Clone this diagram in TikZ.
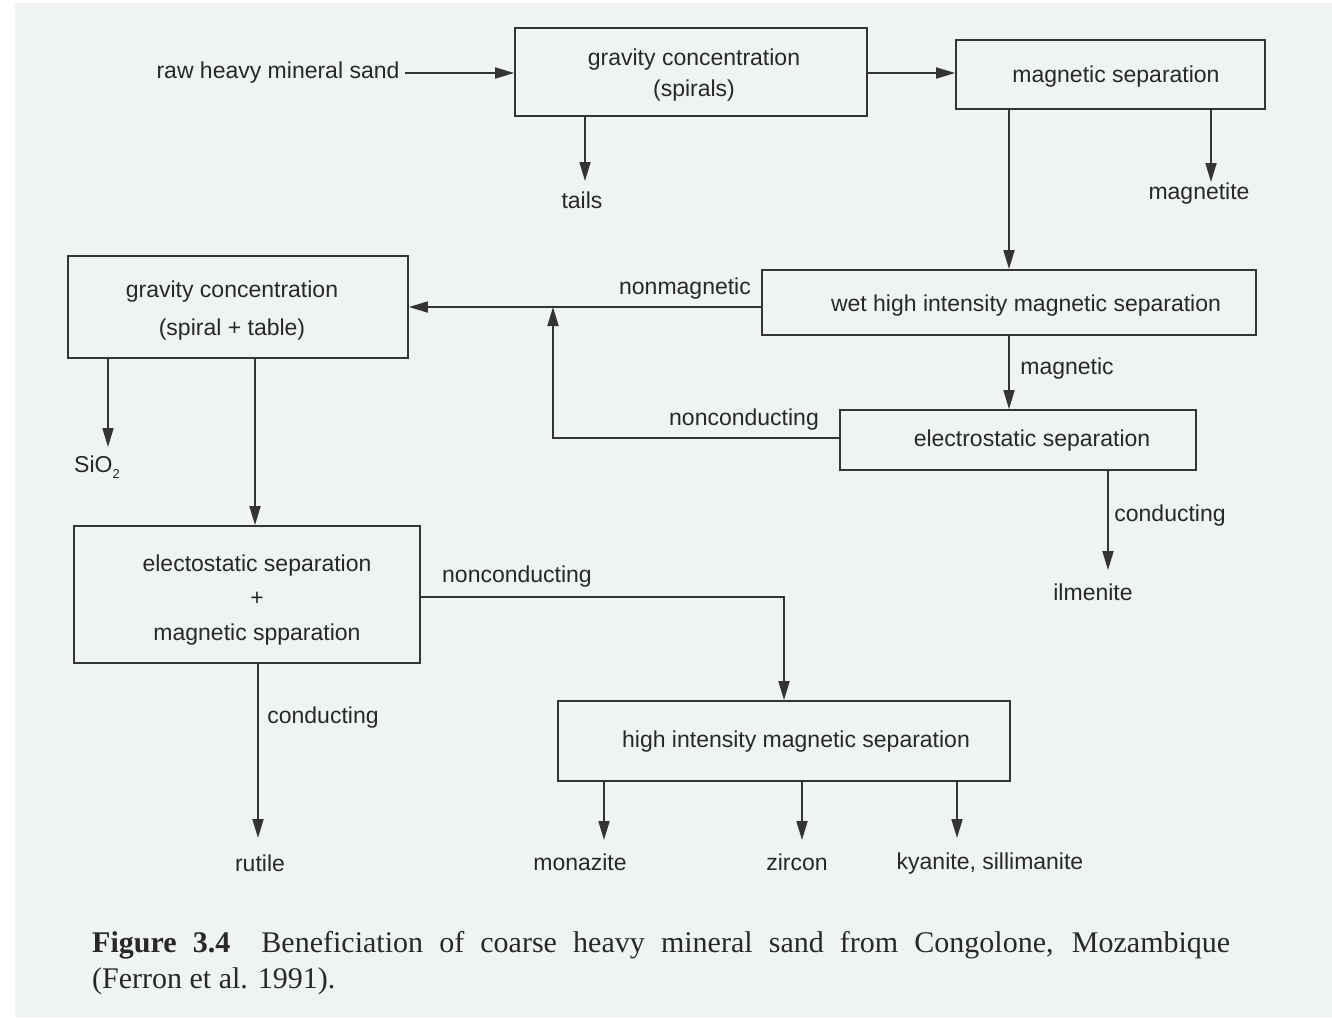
\documentclass[tikz,border=0pt]{standalone}
\usepackage{fontspec}
\setmainfont{Liberation Sans}
\newfontfamily\capfont{Liberation Serif}
\usetikzlibrary{arrows.meta,calc}
\definecolor{bgc}{RGB}{239,243,243}
\definecolor{ink}{RGB}{52,52,52}
\definecolor{txt}{RGB}{40,40,40}
\tikzset{
  box/.style={draw=ink,line width=1.8pt,inner sep=0pt},
  lbl/.style={text=txt,inner sep=0pt,font=\fontsize{23pt}{27pt}\selectfont},
  arr/.style={draw=ink,line width=1.8pt,-{Triangle[length=19pt,width=11pt]}},
  captxt/.style={text=txt,inner sep=0pt,anchor=base west,font=\capfont\fontsize{30pt}{36pt}\selectfont}
}
\begin{document}
\begin{tikzpicture}[x=1pt,y=-1pt]
\useasboundingbox (0,0) rectangle (1332,1018);
\fill[bgc] (15,3) rectangle (1332,1018);

% boxes
\node[box,minimum width=352pt,minimum height=88pt] (b1) at (691,72) {};
\node[box,minimum width=309pt,minimum height=69pt] (b2) at (1110.5,74.5) {};
\node[box,minimum width=494pt,minimum height=65pt] (b3) at (1009,302.5) {};
\node[box,minimum width=356pt,minimum height=60pt] (b5) at (1018,440) {};
\node[box,minimum width=340pt,minimum height=102pt] (b4) at (238,307) {};
\node[box,minimum width=346pt,minimum height=137pt] (b6) at (247,594.5) {};
\node[box,minimum width=452pt,minimum height=80pt] (b7) at (784,741) {};

% box texts
\node[lbl,align=center,font=\fontsize{23pt}{31pt}\selectfont] (t1) at (694,75) {gravity concentration\\(spirals)};
\node[lbl] (t2) at (1116,77) {magnetic separation};
\node[lbl] (t3) at (1026,306) {wet high intensity magnetic separation};
\node[lbl,align=center,font=\fontsize{23pt}{38pt}\selectfont] (t4) at (232,311) {gravity concentration\\(spiral + table)};
\node[lbl] (t5) at (1032,441) {electrostatic separation};
\node[lbl,align=center,font=\fontsize{23pt}{34.5pt}\selectfont] (t6) at (257,600) {electostatic separation\\+\\magnetic spparation};
\node[lbl] (t7) at (796,742) {high intensity magnetic separation};

% input
\node[lbl,inner sep=5pt] (raw) at (278,73) {raw heavy mineral sand};

% outputs
\node[lbl] (tails) at (582,200) {tails};
\node[lbl] (magnetite) at (1199,194) {magnetite};
\node[lbl] (sio) at (97,467) {SiO\raisebox{-0.45ex}{\fontsize{13pt}{13pt}\selectfont 2}};
\node[lbl] (ilmenite) at (1093,592) {ilmenite};
\node[lbl] (rutile) at (260,863) {rutile};
\node[lbl] (monazite) at (580,862) {monazite};
\node[lbl] (zircon) at (797,862) {zircon};
\node[lbl] (kyanite) at (990,864) {kyanite, sillimanite};

% edge labels
\node[lbl] (l1) at (685,289) {nonmagnetic};
\node[lbl] (l2) at (1067,369) {magnetic};
\node[lbl] (l3) at (744,420) {nonconducting};
\node[lbl] (l4) at (1170,516) {conducting};
\node[lbl] (l5) at (517,577) {nonconducting};
\node[lbl] (l6) at (323,718) {conducting};

% arrow end coordinates
\coordinate (ctails) at (585,181);
\coordinate (cmag) at (1211,182);
\coordinate (csio) at (108,447);
\coordinate (cilm) at (1108,570);
\coordinate (crut) at (258,838);
\coordinate (cmon) at (604,840);
\coordinate (czir) at (802,840);
\coordinate (ckya) at (957,838);
\coordinate (cfb) at (553,307);
\coordinate (cv) at (255,0);

% connectors
\draw[arr] (raw.east) -- (raw.east -| b1.west);
\draw[arr] (b1.east |- 0,73) -- (b2.west |- 0,73);
\draw[arr] (b1.south -| ctails) -- (ctails);
\draw[arr] (b2.south -| cmag) -- (cmag);
\draw[arr] (b2.south -| b3.north) -- (b3.north);
\draw[arr] (b3.west |- b4.east) -- (b4.east);
\draw[arr] (b3.south) -- (b3.south |- b5.north);
\draw[arr] (b5.west |- 0,438) -| (cfb);
\draw[arr] (b5.south -| cilm) -- (cilm);
\draw[arr] (b4.south -| csio) -- (csio);
\draw[arr] (b4.south -| cv) -- (b6.north -| cv);
\draw[arr] (b6.east |- 0,597) -| (b7.north);
\draw[arr] (b6.south -| crut) -- (crut);
\draw[arr] (b7.south -| cmon) -- (cmon);
\draw[arr] (b7.south -| czir) -- (czir);
\draw[arr] (b7.south -| ckya) -- (ckya);

% caption
\node[captxt] (cap1) at (92,952) {\makebox[1138pt][s]{\textbf{Figure 3.4}\hspace{0.5em} Beneficiation of coarse heavy mineral sand from Congolone, Mozambique}};
\node[captxt] (cap2) at (92,988) {(Ferron et al. 1991).};
\end{tikzpicture}
\end{document}
